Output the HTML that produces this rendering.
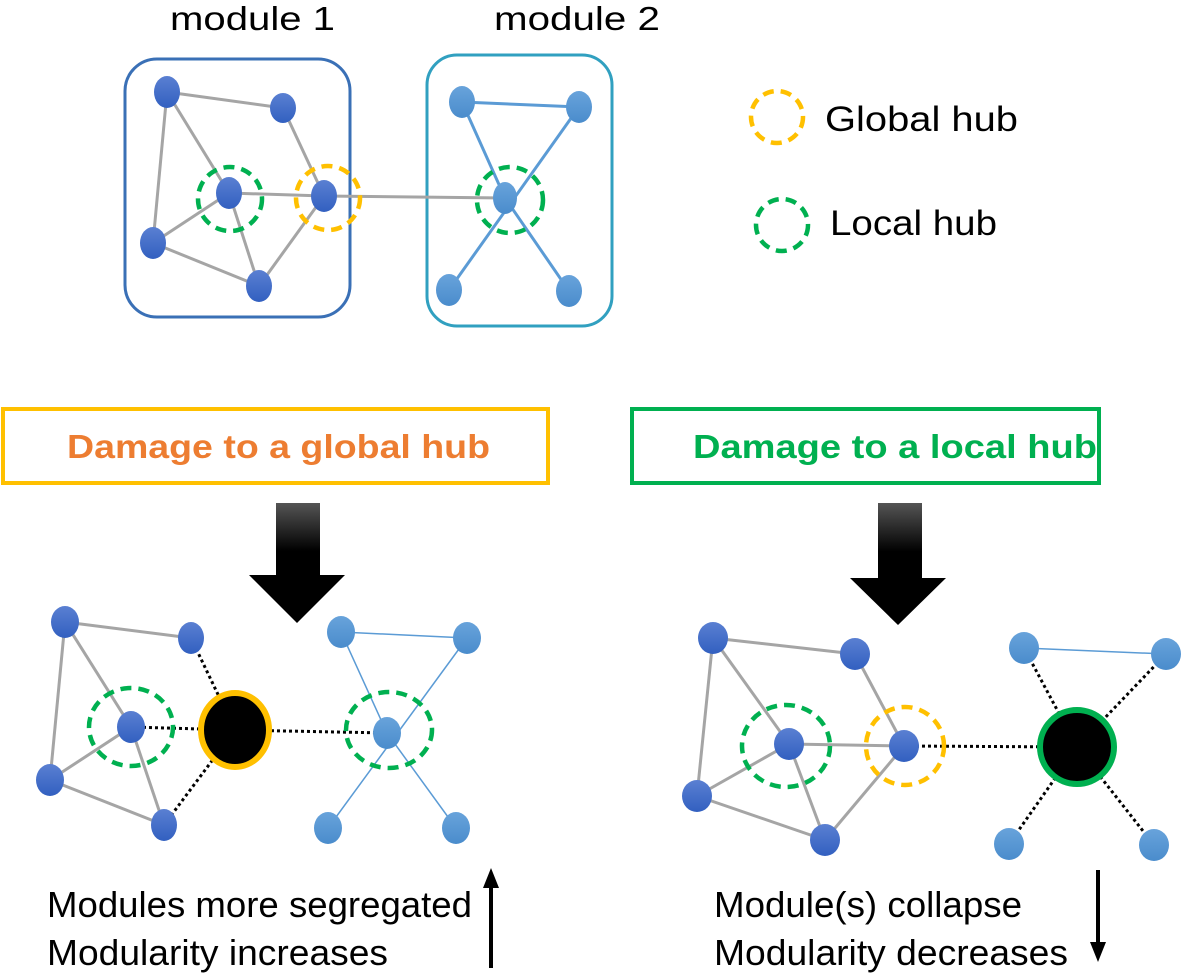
<!DOCTYPE html>
<html><head><meta charset="utf-8"><style>
html,body{margin:0;padding:0;background:#fff}
svg{display:block}
text{font-family:"Liberation Sans",sans-serif}
</style></head><body>
<svg width="1186" height="974" viewBox="0 0 1186 974" xmlns="http://www.w3.org/2000/svg">
<defs>
<linearGradient id="db" x1="0" y1="0" x2="0" y2="1"><stop offset="0" stop-color="#5a80d2"/><stop offset="1" stop-color="#3260c0"/></linearGradient>
<linearGradient id="lb" x1="0" y1="0" x2="0" y2="1"><stop offset="0" stop-color="#68a3db"/><stop offset="1" stop-color="#4a8ccc"/></linearGradient>
<linearGradient id="ar" x1="0" y1="0" x2="0" y2="1"><stop offset="0" stop-color="#555"/><stop offset="0.4" stop-color="#000"/></linearGradient>
</defs>
<g lengthAdjust="spacingAndGlyphs">
<text x="170" y="30" font-size="33" textLength="165" lengthAdjust="spacingAndGlyphs">module 1</text>
<text x="494" y="30" font-size="33" textLength="166" lengthAdjust="spacingAndGlyphs">module 2</text>
</g>
<rect x="125" y="59" width="225" height="258" rx="32" fill="none" stroke="#3a70b6" stroke-width="3"/>
<rect x="427" y="55" width="185" height="271" rx="30" fill="none" stroke="#31a0c0" stroke-width="3"/>
<g stroke="#a5a5a5" stroke-width="3">
<line x1="167" y1="92" x2="283" y2="108"/><line x1="167" y1="92" x2="153" y2="243"/><line x1="167" y1="92" x2="229" y2="193"/>
<line x1="283" y1="108" x2="324" y2="196"/><line x1="229" y1="193" x2="324" y2="196"/><line x1="229" y1="193" x2="153" y2="243"/>
<line x1="229" y1="193" x2="259" y2="286"/><line x1="153" y1="243" x2="259" y2="286"/><line x1="259" y1="286" x2="324" y2="196"/>
<line x1="324" y1="196" x2="505" y2="198"/>
</g>
<g stroke="#5b9bd5" stroke-width="3">
<line x1="462" y1="102" x2="579" y2="107"/><line x1="462" y1="102" x2="505" y2="198"/><line x1="579" y1="107" x2="449" y2="290"/><line x1="505" y1="198" x2="569" y2="291"/>
</g>
<g fill="url(#db)">
<ellipse cx="167" cy="92" rx="13" ry="16"/><ellipse cx="283" cy="108" rx="13" ry="15"/><ellipse cx="229" cy="193" rx="13" ry="16"/>
<ellipse cx="324" cy="196" rx="13" ry="16"/><ellipse cx="153" cy="243" rx="13" ry="16"/><ellipse cx="259" cy="286" rx="13" ry="16"/>
</g>
<g fill="url(#lb)">
<ellipse cx="462" cy="102" rx="13" ry="16"/><ellipse cx="579" cy="107" rx="13" ry="16"/><ellipse cx="505" cy="198" rx="12" ry="16"/>
<ellipse cx="449" cy="290" rx="13" ry="16"/><ellipse cx="569" cy="291" rx="13" ry="16"/>
</g>
<g fill="none" stroke-width="4.5" stroke-dasharray="11 7">
<circle cx="230" cy="199" r="32" stroke="#00b050"/>
<circle cx="328" cy="198" r="32" stroke="#ffc000"/>
<circle cx="510" cy="200" r="33" stroke="#00b050"/>
<circle cx="777" cy="117" r="26" stroke="#ffc000"/>
<circle cx="782" cy="225" r="26" stroke="#00b050"/>
</g>
<text x="825" y="131" font-size="35" textLength="193" lengthAdjust="spacingAndGlyphs">Global hub</text>
<text x="830" y="235" font-size="35" textLength="167" lengthAdjust="spacingAndGlyphs">Local hub</text>
<rect x="3" y="409" width="545" height="74" fill="none" stroke="#ffc000" stroke-width="4"/>
<text x="67" y="458" font-size="33" font-weight="bold" fill="#ed7d31" textLength="423" lengthAdjust="spacingAndGlyphs">Damage to a global hub</text>
<rect x="632" y="409" width="467" height="74" fill="none" stroke="#00b050" stroke-width="4"/>
<text x="693" y="458" font-size="33" font-weight="bold" fill="#00b050" textLength="404" lengthAdjust="spacingAndGlyphs">Damage to a local hub</text>
<polygon points="276,503 320,503 320,575 345,575 297,623 249,575 276,575" fill="url(#ar)"/>
<polygon points="878,503 922,503 922,578 946,578 898,625 850,578 878,578" fill="url(#ar)"/>
<g stroke="#a5a5a5" stroke-width="3">
<line x1="65" y1="622" x2="191" y2="638"/><line x1="65" y1="622" x2="50" y2="780"/><line x1="65" y1="622" x2="131" y2="727"/>
<line x1="131" y1="727" x2="50" y2="780"/><line x1="131" y1="727" x2="164" y2="825"/><line x1="50" y1="780" x2="164" y2="825"/>
</g>
<g stroke="#000" stroke-width="3" stroke-dasharray="3 3">
<line x1="191" y1="638" x2="235" y2="730"/><line x1="164" y1="825" x2="235" y2="730"/><line x1="131" y1="727" x2="235" y2="730"/><line x1="235" y1="730" x2="387" y2="733"/>
</g>
<g stroke="#5b9bd5" stroke-width="1.5">
<line x1="341" y1="632" x2="467" y2="638"/><line x1="341" y1="632" x2="387" y2="733"/><line x1="467" y1="638" x2="328" y2="828"/><line x1="387" y1="733" x2="456" y2="828"/>
</g>
<g fill="url(#db)">
<ellipse cx="65" cy="622" rx="14" ry="16"/><ellipse cx="191" cy="638" rx="13" ry="16"/><ellipse cx="131" cy="727" rx="14" ry="16"/>
<ellipse cx="50" cy="780" rx="14" ry="16"/><ellipse cx="164" cy="825" rx="13" ry="16"/>
</g>
<g fill="url(#lb)">
<ellipse cx="341" cy="632" rx="14" ry="16"/><ellipse cx="467" cy="638" rx="14" ry="16"/><ellipse cx="387" cy="733" rx="14" ry="16"/>
<ellipse cx="328" cy="828" rx="14" ry="16"/><ellipse cx="456" cy="828" rx="14" ry="16"/>
</g>
<ellipse cx="235" cy="730" rx="34" ry="37" fill="#000" stroke="#ffc000" stroke-width="6"/>
<g fill="none" stroke-width="4.5" stroke-dasharray="11 7" stroke="#00b050">
<ellipse cx="131" cy="727" rx="42" ry="39"/><ellipse cx="389" cy="730" rx="43" ry="38"/>
</g>
<g stroke="#a5a5a5" stroke-width="3">
<line x1="713" y1="638" x2="855" y2="654"/><line x1="713" y1="638" x2="697" y2="796"/><line x1="713" y1="638" x2="789" y2="744"/>
<line x1="855" y1="654" x2="904" y2="746"/><line x1="789" y1="744" x2="904" y2="746"/><line x1="789" y1="744" x2="697" y2="796"/>
<line x1="789" y1="744" x2="825" y2="840"/><line x1="697" y1="796" x2="825" y2="840"/><line x1="825" y1="840" x2="904" y2="746"/>
</g>
<line x1="1024" y1="648" x2="1166" y2="654" stroke="#5b9bd5" stroke-width="1.5"/>
<g stroke="#000" stroke-width="3" stroke-dasharray="3 3">
<line x1="904" y1="746" x2="1077" y2="747"/><line x1="1024" y1="648" x2="1077" y2="747"/><line x1="1166" y1="654" x2="1077" y2="747"/>
<line x1="1009" y1="844" x2="1077" y2="747"/><line x1="1154" y1="845" x2="1077" y2="747"/>
</g>
<g fill="url(#db)">
<ellipse cx="713" cy="638" rx="15" ry="16"/><ellipse cx="855" cy="654" rx="15" ry="16"/><ellipse cx="789" cy="744" rx="15" ry="16"/>
<ellipse cx="697" cy="796" rx="15" ry="16"/><ellipse cx="825" cy="840" rx="15" ry="16"/><ellipse cx="904" cy="746" rx="15" ry="16"/>
</g>
<g fill="url(#lb)">
<ellipse cx="1024" cy="648" rx="15" ry="16"/><ellipse cx="1166" cy="654" rx="15" ry="16"/>
<ellipse cx="1009" cy="844" rx="15" ry="16"/><ellipse cx="1154" cy="845" rx="15" ry="16"/>
</g>
<circle cx="1077" cy="747" r="37" fill="#000" stroke="#00b050" stroke-width="6"/>
<g fill="none" stroke-width="4.5" stroke-dasharray="11 7">
<ellipse cx="786" cy="746" rx="44" ry="41" stroke="#00b050"/>
<ellipse cx="905" cy="746" rx="39" ry="39" stroke="#ffc000"/>
</g>
<text x="47" y="917" font-size="36" textLength="425" lengthAdjust="spacingAndGlyphs">Modules more segregated</text>
<text x="47" y="965" font-size="36" textLength="341" lengthAdjust="spacingAndGlyphs">Modularity increases</text>
<text x="714" y="917" font-size="36" textLength="308" lengthAdjust="spacingAndGlyphs">Module(s) collapse</text>
<text x="714" y="965" font-size="36" textLength="354" lengthAdjust="spacingAndGlyphs">Modularity decreases</text>
<line x1="491" y1="968" x2="491" y2="885" stroke="#000" stroke-width="4"/>
<polygon points="483,888 499,888 491,868" fill="#000"/>
<line x1="1098" y1="870" x2="1098" y2="945" stroke="#000" stroke-width="4"/>
<polygon points="1090,942 1106,942 1098,962" fill="#000"/>
</svg>
</body></html>
